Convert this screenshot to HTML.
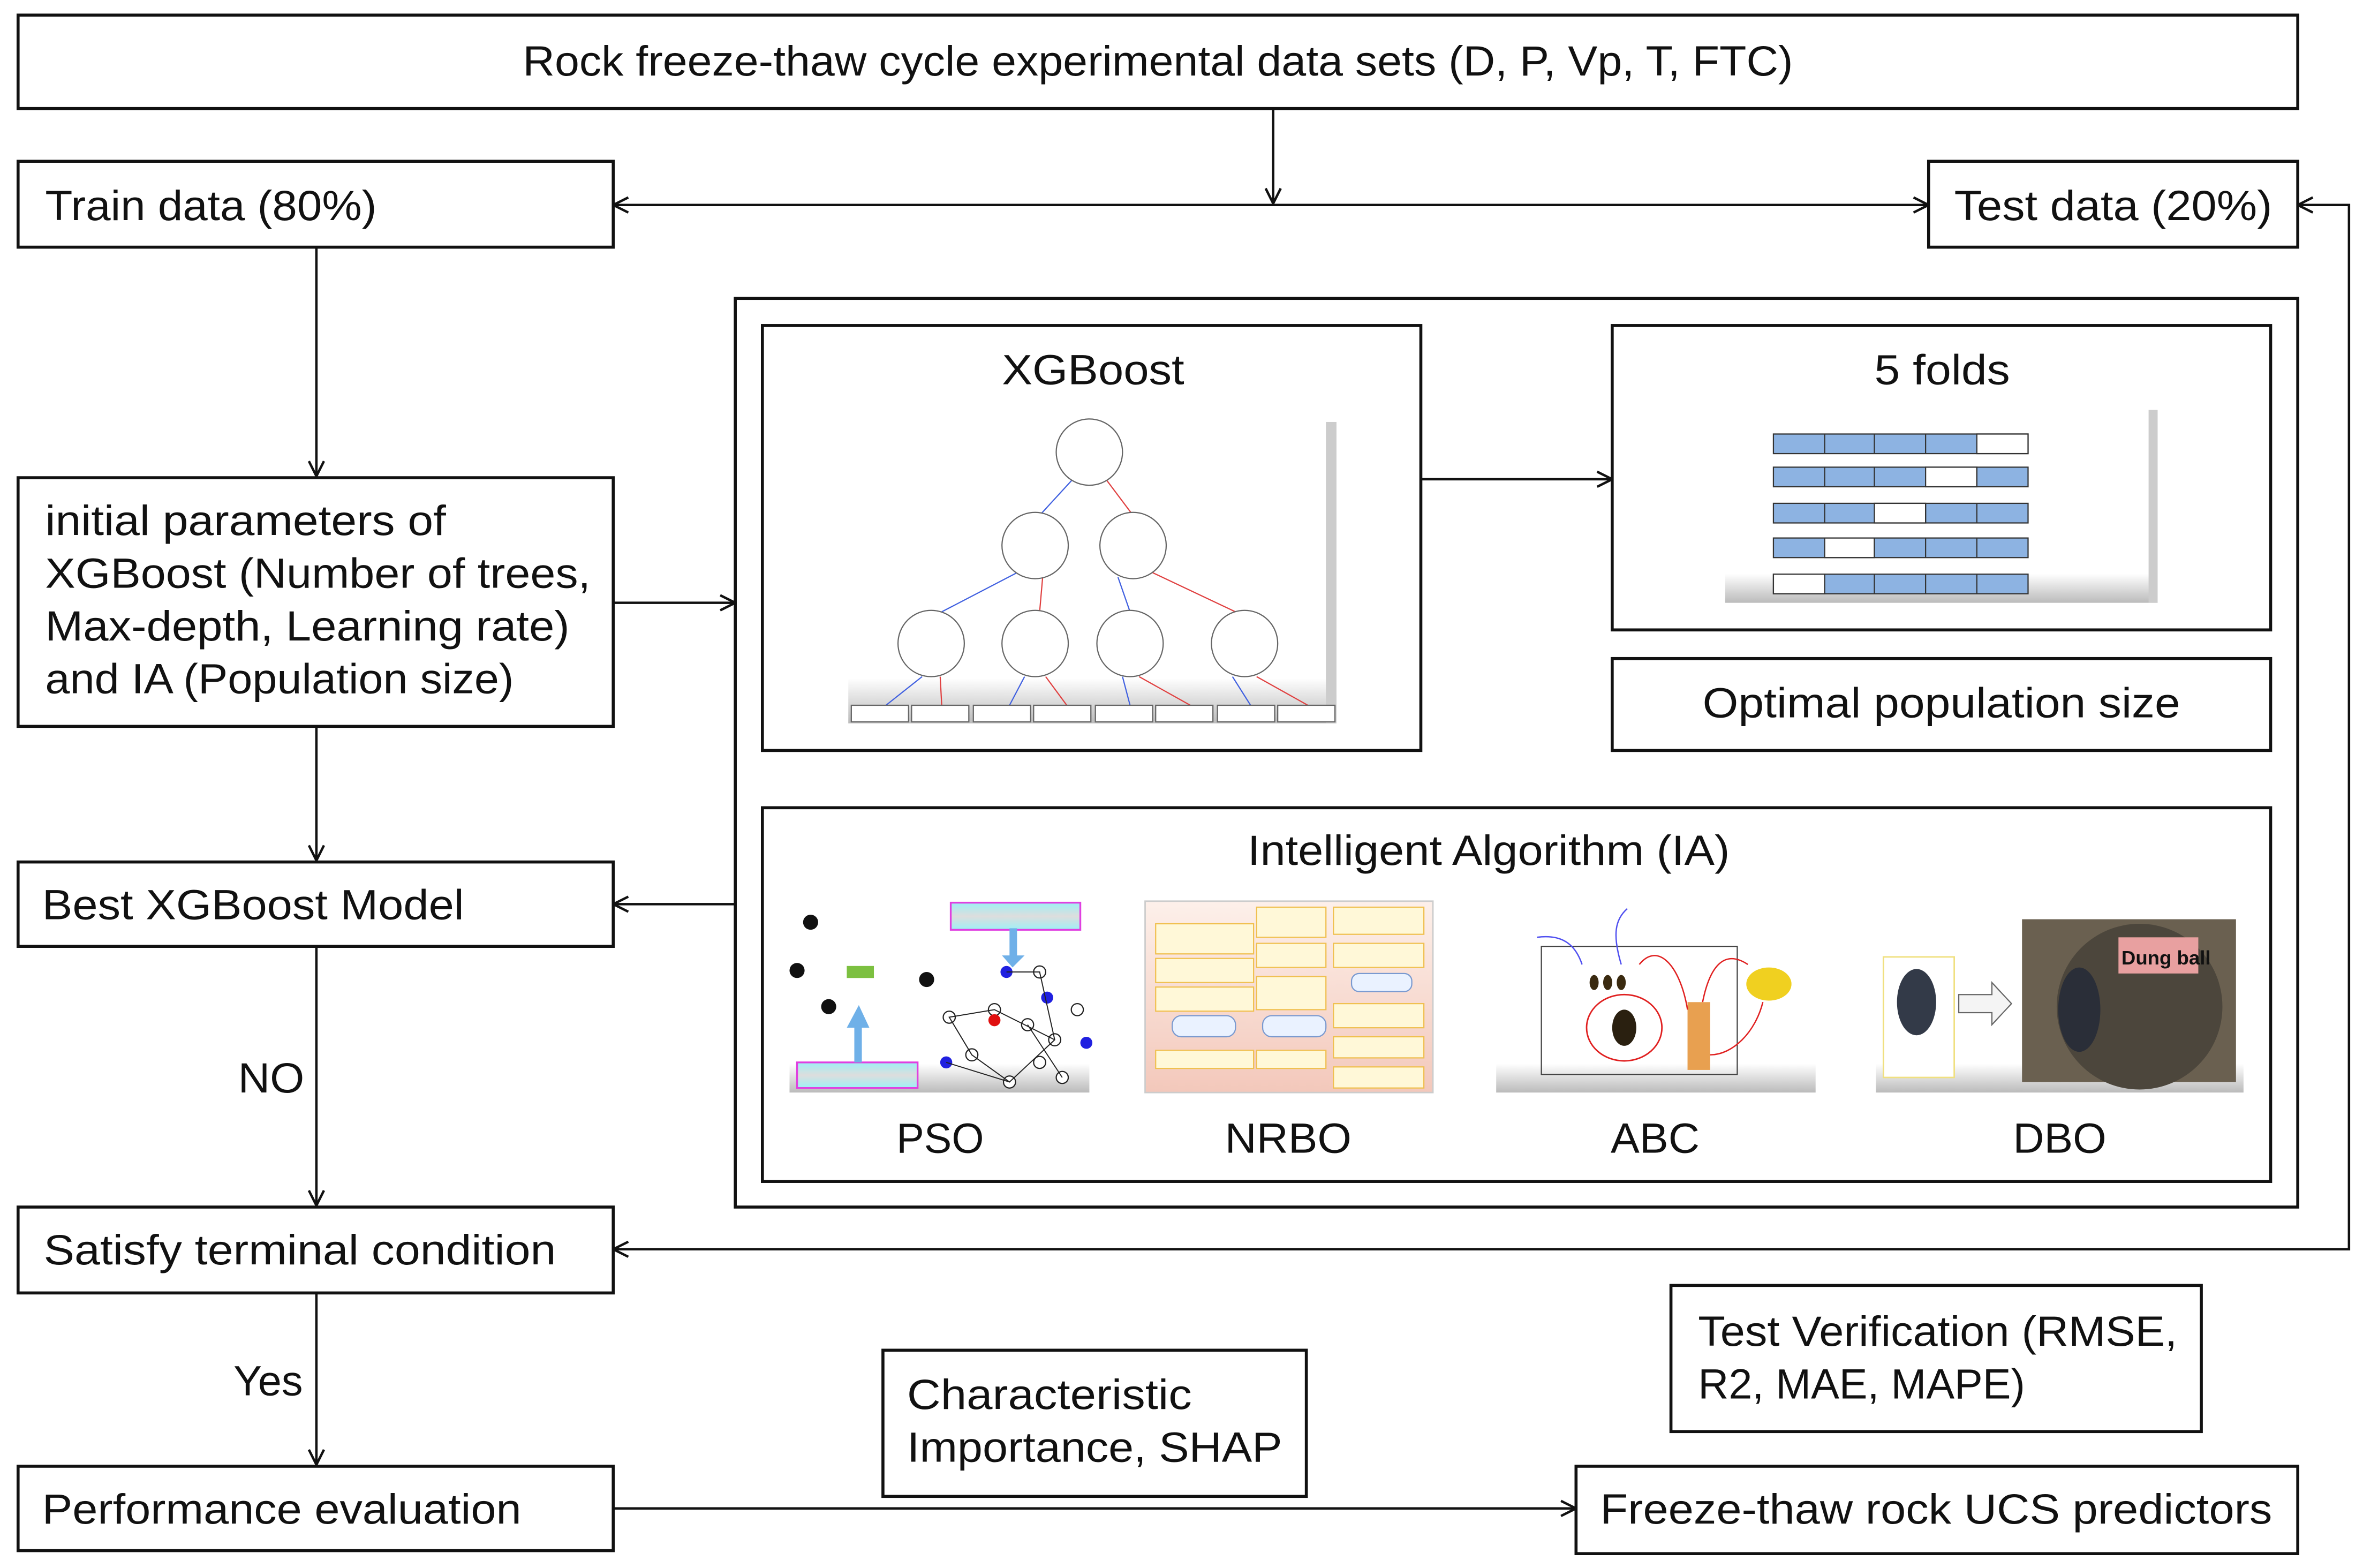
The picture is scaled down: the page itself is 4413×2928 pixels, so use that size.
<!DOCTYPE html>
<html><head><meta charset="utf-8"><style>
html,body{margin:0;padding:0;background:#fff;}
svg{display:block;}
text{font-family:"Liberation Sans",sans-serif;fill:#111;}
</style></head><body>
<svg width="4413" height="2928" viewBox="0 0 1568.3 1040.5" xmlns="http://www.w3.org/2000/svg">
<defs>
<marker id="a" viewBox="0 0 12 12" refX="11" refY="6" markerWidth="12" markerHeight="12" markerUnits="userSpaceOnUse" orient="auto-start-reverse">
<path d="M1,1 L11,6 L1,11" fill="none" stroke="#111" stroke-width="1.6"/>
</marker>
<linearGradient id="bev" x1="0" y1="0" x2="0" y2="1"><stop offset="0.85" stop-color="#fff"/><stop offset="1" stop-color="#bbb"/></linearGradient>
<linearGradient id="pink" x1="0" y1="0" x2="0" y2="1"><stop offset="0" stop-color="#fdf0ea"/><stop offset="1" stop-color="#f3c8bb"/></linearGradient>
<linearGradient id="cyan" x1="0" y1="0" x2="0" y2="1"><stop offset="0" stop-color="#9ef0f5"/><stop offset="0.5" stop-color="#ddd"/><stop offset="1" stop-color="#9ef0f5"/></linearGradient>
</defs>
<g fill="none" stroke="#111" stroke-width="2">
<rect x="12" y="10" width="1513" height="62"/>
<rect x="12" y="107" width="395" height="57"/>
<rect x="1280" y="107" width="245" height="57"/>
<rect x="12" y="317" width="395" height="165"/>
<rect x="12" y="572" width="395" height="56"/>
<rect x="12" y="801" width="395" height="57"/>
<rect x="12" y="973" width="395" height="56"/>
<rect x="488" y="198" width="1037" height="603"/>
<rect x="506" y="216" width="437" height="282"/>
<rect x="1070" y="216" width="437" height="202"/>
<rect x="1070" y="437" width="437" height="61"/>
<rect x="506" y="536" width="1001" height="248"/>
<rect x="586" y="896" width="281" height="97"/>
<rect x="1109" y="853" width="352" height="97"/>
<rect x="1046" y="973" width="479" height="58"/>
</g>
<g fill="none" stroke="#111" stroke-width="1.6">
<line x1="845" y1="72" x2="845" y2="135" marker-end="url(#a)"/>
<line x1="407" y1="136" x2="1280" y2="136" marker-start="url(#a)" marker-end="url(#a)"/>
<polyline points="407,829 1559,829 1559,136 1525,136" marker-start="url(#a)" marker-end="url(#a)"/>
<line x1="210" y1="164" x2="210" y2="316" marker-end="url(#a)"/>
<line x1="407" y1="400" x2="488" y2="400" marker-end="url(#a)"/>
<line x1="943" y1="318" x2="1070" y2="318" marker-end="url(#a)"/>
<line x1="488" y1="600" x2="407" y2="600" marker-end="url(#a)"/>
<line x1="210" y1="482" x2="210" y2="571" marker-end="url(#a)"/>
<line x1="210" y1="628" x2="210" y2="800" marker-end="url(#a)"/>
<line x1="210" y1="858" x2="210" y2="972" marker-end="url(#a)"/>
<line x1="407" y1="1001" x2="1046" y2="1001" marker-end="url(#a)"/>
</g>
<g font-size="28">
<text x="347" y="50" textLength="843" lengthAdjust="spacingAndGlyphs">Rock freeze-thaw cycle experimental data sets (D, P, Vp, T, FTC)</text>
<text x="30" y="146" textLength="220" lengthAdjust="spacingAndGlyphs">Train data (80%)</text>
<text x="1297" y="146" textLength="211" lengthAdjust="spacingAndGlyphs">Test data (20%)</text>
<text x="30" y="355" textLength="266" lengthAdjust="spacingAndGlyphs">initial parameters of</text>
<text x="30" y="390" textLength="362" lengthAdjust="spacingAndGlyphs">XGBoost (Number of trees,</text>
<text x="30" y="425" textLength="348" lengthAdjust="spacingAndGlyphs">Max-depth, Learning rate)</text>
<text x="30" y="460" textLength="311" lengthAdjust="spacingAndGlyphs">and IA (Population size)</text>
<text x="28" y="610" textLength="280" lengthAdjust="spacingAndGlyphs">Best XGBoost Model</text>
<text x="29" y="839" textLength="340" lengthAdjust="spacingAndGlyphs">Satisfy terminal condition</text>
<text x="28" y="1011" textLength="318" lengthAdjust="spacingAndGlyphs">Performance evaluation</text>
<text x="158" y="725" textLength="44" lengthAdjust="spacingAndGlyphs">NO</text>
<text x="155" y="926" textLength="46" lengthAdjust="spacingAndGlyphs">Yes</text>
<text x="602" y="935" textLength="189" lengthAdjust="spacingAndGlyphs">Characteristic</text>
<text x="602" y="970" textLength="249" lengthAdjust="spacingAndGlyphs">Importance, SHAP</text>
<text x="1127" y="893" textLength="318" lengthAdjust="spacingAndGlyphs">Test Verification (RMSE,</text>
<text x="1127" y="928" textLength="217" lengthAdjust="spacingAndGlyphs">R2, MAE, MAPE)</text>
<text x="1062" y="1011" textLength="446" lengthAdjust="spacingAndGlyphs">Freeze-thaw rock UCS predictors</text>
<text x="665" y="255" textLength="121" lengthAdjust="spacingAndGlyphs">XGBoost</text>
<text x="1244" y="255" textLength="90" lengthAdjust="spacingAndGlyphs">5 folds</text>
<text x="1130" y="476" textLength="317" lengthAdjust="spacingAndGlyphs">Optimal population size</text>
<text x="828" y="574" textLength="320" lengthAdjust="spacingAndGlyphs">Intelligent Algorithm (IA)</text>
<text x="595" y="765" textLength="58" lengthAdjust="spacingAndGlyphs">PSO</text>
<text x="813" y="765" textLength="84" lengthAdjust="spacingAndGlyphs">NRBO</text>
<text x="1069" y="765" textLength="59" lengthAdjust="spacingAndGlyphs">ABC</text>
<text x="1336" y="765" textLength="62" lengthAdjust="spacingAndGlyphs">DBO</text>
</g>
<!-- XGBoost tree image -->
<rect x="563" y="280" width="324" height="200" fill="url(#bev)"/>
<rect x="880" y="280" width="7" height="200" fill="#ccc"/>
<g stroke-width="0.8" fill="none">
<line x1="712" y1="318" x2="690" y2="342" stroke="#4060e0"/><line x1="734" y1="318" x2="752" y2="342" stroke="#e04040"/>
<line x1="675" y1="380" x2="625" y2="406" stroke="#4060e0"/><line x1="692" y1="383" x2="690" y2="406" stroke="#e04040"/>
<line x1="742" y1="383" x2="750" y2="406" stroke="#4060e0"/><line x1="765" y1="380" x2="820" y2="406" stroke="#e04040"/>
<g stroke="#4060e0"><line x1="612" y1="449" x2="588" y2="468"/><line x1="680" y1="449" x2="670" y2="468"/><line x1="745" y1="449" x2="750" y2="468"/><line x1="818" y1="449" x2="830" y2="468"/></g>
<g stroke="#e04040"><line x1="624" y1="449" x2="625" y2="468"/><line x1="694" y1="449" x2="708" y2="468"/><line x1="756" y1="449" x2="790" y2="468"/><line x1="834" y1="449" x2="868" y2="468"/></g>
</g>
<g fill="#fff" stroke="#666" stroke-width="0.8">
<circle cx="723" cy="300" r="22"/><circle cx="687" cy="362" r="22"/><circle cx="752" cy="362" r="22"/>
<circle cx="618" cy="427" r="22"/><circle cx="687" cy="427" r="22"/><circle cx="750" cy="427" r="22"/><circle cx="826" cy="427" r="22"/>
<rect x="565" y="468" width="38" height="11"/><rect x="605" y="468" width="38" height="11"/><rect x="646" y="468" width="38" height="11"/><rect x="686" y="468" width="38" height="11"/><rect x="727" y="468" width="38" height="11"/><rect x="767" y="468" width="38" height="11"/><rect x="808" y="468" width="38" height="11"/><rect x="848" y="468" width="38" height="11"/>
</g>
<!-- 5 folds image -->
<rect x="1145" y="272" width="287" height="128" fill="url(#bev)"/>
<rect x="1426" y="272" width="6" height="128" fill="#ccc"/>
<g stroke="#333" stroke-width="0.8">
<g fill="#8db3e2">
<rect x="1177" y="288" width="169" height="13"/><rect x="1177" y="310" width="169" height="13"/><rect x="1177" y="334" width="169" height="13"/><rect x="1177" y="357" width="169" height="13"/><rect x="1177" y="381" width="169" height="13"/>
</g>
<g fill="#fff">
<rect x="1312" y="288" width="34" height="13"/><rect x="1278" y="310" width="34" height="13"/><rect x="1244" y="334" width="34" height="13"/><rect x="1211" y="357" width="33" height="13"/><rect x="1177" y="381" width="34" height="13"/>
</g>
<g fill="none"><path d="M1211,288v13M1244,288v13M1278,288v13M1211,310v13M1244,310v13M1312,310v13M1211,334v13M1278,334v13M1312,334v13M1244,357v13M1278,357v13M1312,357v13M1244,381v13M1278,381v13M1312,381v13"/></g>
</g>
<!-- PSO -->
<rect x="524" y="598" width="199" height="127" fill="url(#bev)"/>
<rect x="631" y="599" width="86" height="18" fill="url(#cyan)" stroke="#e040e0" stroke-width="1.2"/>
<rect x="529" y="705" width="80" height="17" fill="url(#cyan)" stroke="#e040e0" stroke-width="1.2"/>
<rect x="670" y="616" width="5" height="20" fill="#6fb0e8"/><path d="M665,634 L680,634 L672,642Z" fill="#6fb0e8"/>
<rect x="567" y="680" width="5" height="25" fill="#6fb0e8"/><path d="M562,682 L577,682 L570,667Z" fill="#6fb0e8"/>
<rect x="562" y="641" width="18" height="8" fill="#7cc040"/>
<g fill="#111"><circle cx="538" cy="612" r="5"/><circle cx="529" cy="644" r="5"/><circle cx="615" cy="650" r="5"/><circle cx="550" cy="668" r="5"/></g>
<g fill="#fff" stroke="#222" stroke-width="0.8"><circle cx="690" cy="645" r="4"/><circle cx="660" cy="670" r="4"/><circle cx="682" cy="680" r="4"/><circle cx="700" cy="690" r="4"/><circle cx="630" cy="675" r="4"/><circle cx="645" cy="700" r="4"/><circle cx="690" cy="705" r="4"/><circle cx="705" cy="715" r="4"/><circle cx="670" cy="718" r="4"/><circle cx="715" cy="670" r="4"/></g>
<g fill="#2020e0"><circle cx="668" cy="645" r="4"/><circle cx="695" cy="662" r="4"/><circle cx="628" cy="705" r="4"/><circle cx="721" cy="692" r="4"/></g>
<circle cx="660" cy="677" r="4" fill="#e01010"/>
<g stroke="#222" stroke-width="0.7" fill="none"><path d="M668,645L690,645L700,690L670,718L645,700L630,675L660,670L700,690M682,680L705,715M628,705L670,718"/></g>
<!-- NRBO -->
<rect x="760" y="598" width="191" height="127" fill="url(#pink)" stroke="#ccc"/>
<g fill="#fff8d8" stroke="#f0c050" stroke-width="0.8">
<rect x="767" y="613" width="65" height="20"/><rect x="767" y="636" width="65" height="16"/><rect x="767" y="655" width="65" height="16"/><rect x="767" y="697" width="65" height="12"/>
<rect x="834" y="602" width="46" height="20"/><rect x="834" y="626" width="46" height="16"/><rect x="834" y="648" width="46" height="22"/><rect x="834" y="697" width="46" height="12"/>
<rect x="885" y="602" width="60" height="18"/><rect x="885" y="626" width="60" height="16"/><rect x="885" y="666" width="60" height="16"/><rect x="885" y="688" width="60" height="14"/><rect x="885" y="708" width="60" height="14"/>
</g>
<g fill="#eaf2ff" stroke="#7a9ad0" stroke-width="0.8"><rect x="778" y="674" width="42" height="14" rx="6"/><rect x="838" y="674" width="42" height="14" rx="6"/><rect x="897" y="646" width="40" height="12" rx="5"/></g>
<!-- ABC -->
<rect x="993" y="598" width="212" height="127" fill="url(#bev)"/>
<rect x="1023" y="628" width="130" height="85" fill="none" stroke="#444" stroke-width="0.8"/>
<ellipse cx="1078" cy="682" rx="25" ry="22" fill="none" stroke="#e02020" stroke-width="1"/>
<ellipse cx="1078" cy="682" rx="8" ry="12" fill="#2a2010"/>
<rect x="1120" y="665" width="15" height="45" fill="#e8a050"/>
<ellipse cx="1174" cy="653" rx="15" ry="11" fill="#f0d020"/>
<g fill="#3a2a10"><ellipse cx="1058" cy="652" rx="3" ry="5"/><ellipse cx="1067" cy="652" rx="3" ry="5"/><ellipse cx="1076" cy="652" rx="3" ry="5"/></g>
<path d="M1076,640 C1070,620 1072,610 1080,603" fill="none" stroke="#5050f0" stroke-width="0.9"/>
<path d="M1050,640 C1045,625 1035,620 1020,622" fill="none" stroke="#5050f0" stroke-width="0.9"/>
<path d="M1120,670 C1115,640 1100,625 1088,640 M1130,665 C1135,640 1145,630 1160,640 M1135,700 C1150,700 1165,685 1170,665" fill="none" stroke="#e02020" stroke-width="0.9"/>
<!-- DBO -->
<rect x="1245" y="598" width="244" height="127" fill="url(#bev)"/>
<rect x="1342" y="610" width="142" height="108" fill="#6a6050"/>
<circle cx="1420" cy="668" r="55" fill="#4c463c"/>
<rect x="1406" y="622" width="53" height="24" fill="#e8a0a0"/>
<text x="1408" y="640" font-size="13" font-family="Liberation Serif,serif" font-weight="bold">Dung ball</text>
<rect x="1250" y="635" width="47" height="80" fill="#fff" stroke="#f0e080"/>
<ellipse cx="1272" cy="665" rx="13" ry="22" fill="#333a48"/>
<ellipse cx="1380" cy="670" rx="14" ry="28" fill="#2a2e38"/>
<path d="M1300,660 L1322,660 L1322,652 L1335,666 L1322,680 L1322,672 L1300,672Z" fill="#f4f4f4" stroke="#666" stroke-width="0.8"/>
</svg>
</body></html>
